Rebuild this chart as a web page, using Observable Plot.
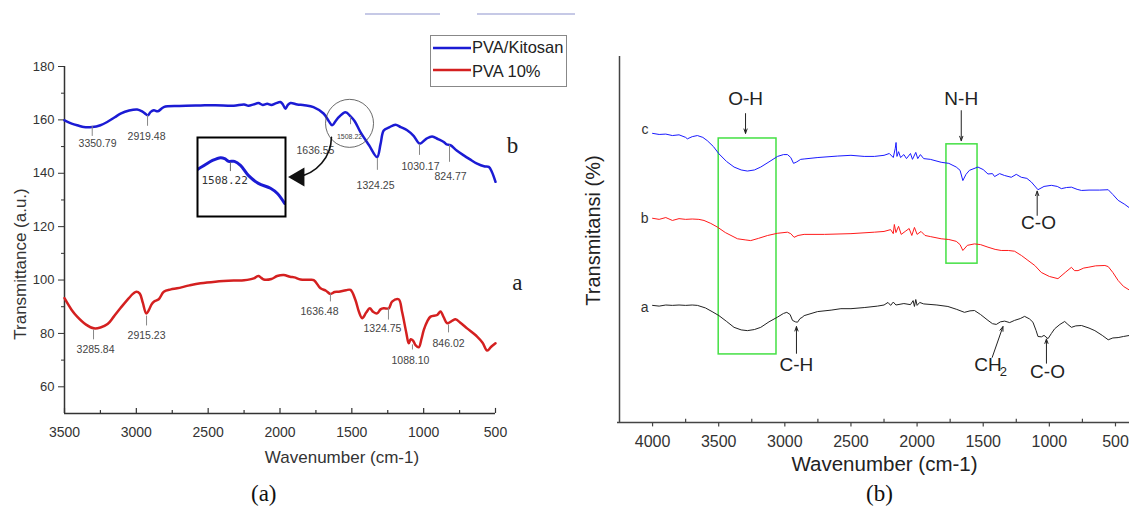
<!DOCTYPE html>
<html><head><meta charset="utf-8">
<script src="https://cdn.jsdelivr.net/npm/d3@7"></script>
<script src="https://cdn.jsdelivr.net/npm/@observablehq/plot@0.6"></script>
<style>
body{margin:0;background:#fff;}
#fig{position:relative;width:1129px;height:511px;overflow:hidden;background:#fff;font-family:"Liberation Sans",Arial,sans-serif;}
.abs{position:absolute;}
</style></head><body><div id="fig"></div>
<script>
// ---------- Panel (a) data ----------
const blueWave = [3500,3450,3400,3366,3307,3250,3203,3150,3110,3050,2994,2960,2935,2920,2900,2878,2850,2809,2700,2553,2450,2322,2250,2220,2183,2150,2120,2089,2060,2030,1997,1980,1962,1945,1927,1880,1830,1767,1697,1660,1637,1600,1544,1509,1480,1440,1380,1324,1300,1278,1240,1196,1160,1115,1070,1027,980,941,900,860,840,814,770,721,680,628,580,547,525,500];
const blueT    = [159.8,158.6,157.8,157.3,157.3,158.0,159.2,161.0,162.3,163.5,163.9,163.2,162.2,161.7,163.0,163.6,163.2,164.8,165.2,165.4,165.5,165.3,165.8,165.3,165.8,166.3,165.6,166.0,165.6,166.2,166.7,165.8,164.2,165.6,166.3,165.8,165.5,164.8,162.4,159.5,158.0,160.5,162.9,161.3,159.5,155.4,150.5,146.1,151.0,156.0,157.2,158.2,157.3,156.1,154.0,151.1,153.0,153.8,152.8,151.7,150.8,150.5,148.5,146.7,145.3,143.6,142.6,142.4,140.5,136.8];
const redWave  = [3500,3450,3412,3350,3296,3250,3200,3157,3110,3064,3020,3000,2976,2955,2931,2913,2895,2878,2844,2809,2760,2716,2630,2553,2450,2322,2250,2183,2160,2148,2130,2113,2060,2020,1974,1930,1900,1857,1800,1765,1718,1680,1649,1620,1591,1540,1509,1475,1450,1428,1400,1375,1350,1324,1300,1278,1243,1220,1174,1150,1120,1104,1090,1074,1055,1034,1015,999,975,952,906,883,860,836,800,779,740,698,628,590,558,530,500];
const redT     = [93.2,88.8,86.3,83.3,81.9,82.2,83.5,86.3,89.5,92.5,95.0,95.6,94.9,91.5,87.5,88.7,90.8,91.9,92.8,95.6,96.5,96.9,98.0,98.8,99.4,99.8,99.9,100.6,101.4,101.5,100.8,100.2,100.4,101.5,101.9,101.2,101.0,100.2,100.1,100.0,96.9,96.0,94.8,95.5,95.6,96.2,96.3,92.5,88.0,85.7,87.8,89.4,88.0,87.5,89.0,89.4,89.4,91.9,92.8,88.0,80.0,76.3,77.8,77.3,75.5,74.8,78.0,81.3,84.5,86.3,86.9,88.2,86.0,83.8,84.8,85.3,83.8,81.9,78.8,76.5,73.6,75.0,76.3];
// inset (zoomed view near 1508 cm-1)
const insetWave = [1625,1597,1573,1545,1531,1517,1497,1476,1448,1414,1372,1348,1323];
const insetT    = [159.2,160.8,162.1,163.0,162.7,161.8,161.8,160.5,157.2,154.7,153.1,151.4,148.2];
// axis ticks (a)
const xMajorA = [3500,3000,2500,2000,1500,1000,500];
const xMinorA = [3250,2750,2250,1750,1250,750];
const yMajorA = [60,80,100,120,140,160,180];
const yMinorA = [70,90,110,130,150,170];
// peak annotations (a): label, tick position, tick ends, label position
const peakLabelsA = ["3350.79","2919.48","1324.25","1030.17","824.77","3285.84","2915.23","1636.48","1324.75","1088.10","846.02"];
const peakTickXA  = [3307,2922,1322,1029,820,3298,2929,1649,1245,1078,827];
const peakTickY1A = [157.6,161.7,145.6,150.8,150.5,81.3,86.5,94.8,89.5,75.7,83.2];
const peakTickY2A = [153.8,157.6,141.1,146.7,144.1,77.6,82.8,91.8,85.0,73.8,80.2];
const peakTextXA  = [3270,2929,1335,1022,813,3284,2929,1725,1287,1092,827];
const peakTextYA  = [151.2,153.8,135.5,142.6,138.9,73.8,79.1,88.0,81.7,69.7,76.1];

// ---------- Panel (b) data ----------
const cWave = [4000,3950,3900,3850,3800,3750,3737,3700,3661,3620,3586,3540,3498,3440,3384,3330,3283,3230,3182,3120,3055,3010,2980,2955,2934,2910,2880,2854,2750,2600,2500,2400,2323,2250,2210,2180,2165,2159,2152,2140,2125,2100,2080,2050,2035,2010,1995,1975,1950,1900,1818,1760,1704,1675,1654,1630,1604,1540,1500,1464,1430,1414,1376,1340,1288,1250,1212,1170,1136,1086,1040,985,940,909,870,833,790,757,700,620,555,520,480,430,400];
const cT    = [79.0,78.7,78.8,78.4,78.6,77.9,77.5,78.1,78.4,77.9,77.0,75.4,73.4,71.3,69.8,69.0,68.7,69.0,69.8,71.2,72.7,73.2,73.2,72.4,70.8,71.2,71.9,72.0,72.4,72.8,73.0,72.7,72.7,73.0,73.5,72.4,74.9,76.5,72.7,74.0,72.4,73.2,72.1,73.5,71.9,73.8,72.1,73.2,72.1,71.9,71.1,70.8,69.8,68.9,66.1,67.8,68.9,69.8,69.1,67.9,68.0,67.2,68.0,67.5,67.0,67.8,67.0,66.7,65.7,63.6,64.5,64.8,64.5,63.9,64.2,64.3,63.7,63.4,63.5,63.5,63.6,62.3,60.7,59.6,58.8];
const bWave = [4000,3950,3900,3850,3800,3750,3700,3650,3611,3560,3510,3450,3358,3300,3258,3200,3130,3055,2980,2955,2930,2900,2854,2700,2500,2323,2250,2200,2180,2172,2160,2140,2120,2090,2060,2040,2020,2000,1970,1940,1900,1818,1760,1704,1675,1654,1620,1566,1520,1464,1410,1364,1310,1263,1210,1162,1110,1061,1000,935,880,833,810,783,740,707,650,580,555,520,480,440,400];
const bT    = [55.8,55.5,56.0,55.2,55.7,55.5,55.6,55.5,55.2,54.4,53.4,51.9,50.2,49.9,49.7,50.3,51.1,51.7,52.0,51.6,50.6,51.1,51.4,51.4,51.6,52.0,52.2,52.7,51.6,54.1,51.9,53.6,51.4,52.2,53.0,51.1,53.3,51.4,52.2,51.1,50.8,50.2,50.0,49.5,48.6,47.0,48.4,48.8,48.6,47.9,47.3,47.0,47.0,46.8,45.6,44.3,42.9,41.0,39.9,39.3,41.0,42.4,41.5,41.5,42.2,42.4,42.8,42.9,42.6,41.0,38.8,37.2,36.3];
const aWave = [4000,3950,3900,3850,3800,3750,3700,3661,3600,3550,3498,3440,3384,3330,3283,3230,3182,3120,3055,3010,2985,2960,2942,2920,2904,2885,2870,2854,2753,2650,2576,2500,2400,2300,2250,2220,2200,2180,2160,2100,2050,2030,2020,2010,2000,1980,1950,1850,1767,1700,1642,1600,1566,1520,1464,1430,1401,1370,1338,1300,1263,1220,1187,1150,1124,1100,1086,1060,1040,1010,985,960,920,884,860,833,800,757,700,656,600,555,520,480,440,392];
const aT    = [32.0,31.8,32.1,32.0,32.1,32.0,32.1,32.0,31.3,30.3,29.2,27.6,26.0,25.3,25.1,25.4,26.0,27.5,28.8,29.8,30.1,29.5,27.9,27.5,27.4,28.4,28.7,29.2,30.3,30.7,31.1,31.1,31.4,31.8,32.1,32.8,32.0,32.9,32.1,32.5,32.2,33.3,31.7,33.6,32.0,32.8,32.4,32.1,31.7,30.9,30.1,30.5,30.6,29.5,27.9,27.0,26.8,27.5,27.7,27.3,27.9,28.4,29.0,28.3,27.4,25.1,23.5,23.4,23.8,22.9,24.3,25.6,26.8,27.6,26.8,26.0,26.4,26.5,25.8,25.1,23.8,22.6,23.1,23.2,23.5,23.8];
const xMajorB = [4000,3500,3000,2500,2000,1500,1000,500];
const xMinorB = [3750,3250,2750,2250,1750,1250,750];
// band annotations (b)
const bandLabels = ["O-H","N-H","C-O","C-H","C-O"];
const bandTextX  = [3297,1666,1082,2912,1014];
const bandTextY  = [88.4,88.5,54.4,15.6,13.7];
const bandArrX1  = [3297,1666,1092,2912,1022];
const bandArrY1  = [84.4,85.2,56.6,18.9,16.2];
const bandArrX2  = [3297,1666,1092,2912,1022];
const bandArrY2  = [79.0,77.0,63.2,26.2,22.8];
const boxX1 = [3500,1778], boxX2 = [3063,1543], boxY1 = [18.6,43.4], boxY2 = [77.6,76.0];
const seriesNamesB = ["c","b","a"];
const seriesLabelY = [80.0,55.7,31.4];

const zip = (ws, ts) => ws.map((w, i) => ({w, t: ts[i]}));
const FONT = "Liberation Sans, Arial, sans-serif";
const SERIF = "Liberation Serif, Times New Roman, serif";
const fig = document.getElementById("fig");
function place(node, left, top, w) {
  const d = document.createElement("div");
  d.className = "abs";
  d.style.left = left + "px"; d.style.top = top + "px";
  if (w) d.style.width = w + "px";
  d.appendChild(node);
  fig.appendChild(d);
  return d;
}

// ---------- Panel (a) ----------
const blue = zip(blueWave, blueT), red = zip(redWave, redT);
const peaks = peakLabelsA.map((label, i) => ({label, x: peakTickXA[i], y1: peakTickY1A[i], y2: peakTickY2A[i], lx: peakTextXA[i], ly: peakTextYA[i]}));
const plotA = Plot.plot({
  width: 570, height: 470,
  marginLeft: 64, marginRight: 75, marginTop: 66, marginBottom: 57,
  x: {domain: [3500, 500]},
  y: {domain: [50, 180]},
  style: {fontFamily: FONT, background: "transparent", overflow: "visible", maxWidth: "none"},
  marks: [
    Plot.ruleX([3500], {y1: 50, y2: 180, stroke: "#333", strokeWidth: 1.5}),
    Plot.ruleY([50], {x1: 3500, x2: 500, stroke: "#333", strokeWidth: 1.5}),
    Plot.ruleX(xMajorA, {x: d => d, y1: 50, y2: 51.9, stroke: "#333", strokeWidth: 1.2}),
    Plot.ruleX(xMinorA, {x: d => d, y1: 50, y2: 51.1, stroke: "#333", strokeWidth: 1.2}),
    Plot.axisX({ticks: xMajorA, tickSize: 0, tickPadding: 14, fontSize: 14, color: "#333", label: null, tickFormat: d => String(d)}),
    Plot.axisY({ticks: yMajorA, tickSize: 6, tickPadding: 4, fontSize: 13, color: "#333", label: null}),
    Plot.axisY({ticks: yMinorA, tickSize: 3, tickFormat: () => "", color: "#333", label: null}),
    Plot.text(["Transmittance (a.u.)"], {frameAnchor: "left", textAnchor: "middle", rotate: -90, dx: -44, dy: 24, fontSize: 17, fill: "#333"}),
    Plot.text(["Wavenumber (cm-1)"], {frameAnchor: "bottom", textAnchor: "middle", lineAnchor: "top", dy: 37, dx: 62, fontSize: 17, fill: "#333"}),
    Plot.line(red, {x: "w", y: "t", stroke: "#d42020", strokeWidth: 2.5, curve: "catmull-rom"}),
    Plot.line(blue, {x: "w", y: "t", stroke: "#1b1bd4", strokeWidth: 2.5, curve: "catmull-rom"}),
    Plot.ruleX(peaks, {x: "x", y1: "y1", y2: "y2", stroke: "#888", strokeWidth: 1}),
    Plot.text(peaks, {x: "lx", y: "ly", text: "label", fontSize: 10.5, fill: "#444"}),
    Plot.ruleX([1509], {y1: 161, y2: 158.2, stroke: "#888"}),
    Plot.text(["1508.22"], {x: 1516, y: 153.8, fontSize: 7, fill: "#444"}),
    Plot.text(["1636.55"], {x: 1753, y: 148.6, fontSize: 10.5, fill: "#444"}),
    Plot.dot([{w: 1516, t: 158.7}], {x: "w", y: "t", r: 24, stroke: "#444", fill: "none", strokeWidth: 0.8}),
    Plot.arrow([{x1: 1642, y1: 153.5, x2: 1880, y2: 138.6}], {x1: "x1", y1: "y1", x2: "x2", y2: "y2", bend: 40, headLength: 0, stroke: "#111", strokeWidth: 1.6}),
    Plot.dot([{w: 1868, t: 138.6}], {x: "w", y: "t", symbol: "triangle", r: 7, fill: "#111", stroke: "none", rotate: -90}),
    Plot.text(["b"], {x: 382, y: 150.5, fontSize: 23, fontFamily: SERIF, fill: "#222"}),
    Plot.text(["a"], {x: 347, y: 98.9, fontSize: 23, fontFamily: SERIF, fill: "#222"})
  ]
});
place(plotA, 0, 0, 570);

// inset
const inset = zip(insetWave, insetT);
const plotInset = Plot.plot({
  width: 88, height: 79, margin: 0,
  x: {domain: [1625, 1320], axis: null},
  y: {domain: [144, 169.5], axis: null},
  style: {fontFamily: FONT, background: "#fff", overflow: "visible", maxWidth: "none"},
  marks: [
    Plot.line(inset, {x: "w", y: "t", stroke: "#1b1bd4", strokeWidth: 3, curve: "catmull-rom", clip: true}),
    Plot.ruleX([1511], {y1: 161.4, y2: 158.5, stroke: "#666"}),
    Plot.text(["1508.22"], {x: 1531, y: 155.6, fontSize: 11, fill: "#333", fontFamily: "DejaVu Sans Mono, monospace"}),
    Plot.frame({stroke: "#000", strokeWidth: 2})
  ]
});
place(plotInset, 197, 137, 88);

// legend (a)
const legend = document.createElement("div");
legend.style.cssText = "width:135px;height:50px;border:1px solid #888;background:#fff;font-size:16.5px;color:#222;position:relative;";
legend.innerHTML =
  '<svg width="40" height="50" style="position:absolute;left:1px;top:0"><line x1="1" x2="39" y1="12" y2="12" stroke="#1b1bd4" stroke-width="2.5"/><line x1="1" x2="39" y1="34" y2="34" stroke="#d42020" stroke-width="2.5"/></svg>' +
  '<div style="position:absolute;left:41px;top:2px;white-space:nowrap">PVA/Kitosan</div>' +
  '<div style="position:absolute;left:41px;top:26px;white-space:nowrap">PVA 10%</div>';
place(legend, 430, 35);

// faint bars at top
[[365, 75], [477, 98]].forEach(([l, w]) => {
  const b = document.createElement("div");
  b.style.cssText = `width:${w}px;height:2px;background:#c6c9e6;`;
  place(b, l, 13);
});

// ---------- Panel (b) ----------
const sc = zip(cWave, cT), sb = zip(bWave, bT), sa = zip(aWave, aT);
const bands = bandLabels.map((label, i) => ({label, tx: bandTextX[i], ty: bandTextY[i], x1: bandArrX1[i], y1: bandArrY1[i], x2: bandArrX2[i], y2: bandArrY2[i]}));
const boxes = boxX1.map((x1, i) => ({x1, x2: boxX2[i], y1: boxY1[i], y2: boxY2[i]}));
const names = seriesNamesB.map((n, i) => ({n, y: seriesLabelY[i]}));
const plotB = Plot.plot({
  width: 569, height: 470,
  marginLeft: 59, marginRight: 0, marginTop: 56, marginBottom: 48,
  x: {domain: [4250, 394]},
  y: {domain: [0, 100]},
  style: {fontFamily: FONT, background: "transparent", overflow: "visible", maxWidth: "none"},
  marks: [
    Plot.ruleX([4250], {y1: 0, y2: 100, stroke: "#444", strokeWidth: 1.5}),
    Plot.ruleY([0], {x1: 4265, x2: 394, stroke: "#444", strokeWidth: 1.5}),
    Plot.ruleX(xMajorB, {x: d => d, y1: 0, y2: -1.2, stroke: "#444", strokeWidth: 1.2}),
    Plot.ruleX(xMinorB, {x: d => d, y1: 0, y2: 0.9, stroke: "#444", strokeWidth: 1.2}),
    Plot.axisX({ticks: xMajorB, tickSize: 0, tickPadding: 13, fontSize: 16, color: "#333", label: null, tickFormat: d => String(d)}),
    Plot.axisY({ticks: [], label: null}),
    Plot.text(["Wavenumber (cm-1)"], {frameAnchor: "bottom", textAnchor: "middle", dy: 48, dx: 10, fontSize: 20.5, fill: "#222"}),
    Plot.text(["Transmitansi (%)"], {frameAnchor: "left", textAnchor: "middle", rotate: -90, dx: -26, dy: -9, fontSize: 20, fill: "#222"}),
    Plot.rect(boxes, {x1: "x1", x2: "x2", y1: "y1", y2: "y2", stroke: "#44e044", fill: "none", strokeWidth: 1.5}),
    Plot.line(sa, {x: "w", y: "t", stroke: "#222", strokeWidth: 1}),
    Plot.line(sb, {x: "w", y: "t", stroke: "#ff1a1a", strokeWidth: 1}),
    Plot.line(sc, {x: "w", y: "t", stroke: "#1a1aff", strokeWidth: 1}),
    Plot.text(names, {x: 4000, y: "y", text: "n", textAnchor: "end", dx: -4, fontSize: 14, fill: "#333"}),
    Plot.arrow(bands, {x1: "x1", y1: "y1", x2: "x2", y2: "y2", stroke: "#222", strokeWidth: 1, headLength: 7, headAngle: 40}),
    Plot.text(bands, {x: "tx", y: "ty", text: "label", fontSize: 19, fill: "#222"}),
    Plot.arrow([{x1: 1432, y1: 17.8, x2: 1351, y2: 26.2}], {x1: "x1", y1: "y1", x2: "x2", y2: "y2", stroke: "#222", strokeWidth: 1, headLength: 7, headAngle: 40}),
    Plot.text(["CH"], {x: 1464, y: 15.6, fontSize: 19, fill: "#222"}),
    Plot.text(["2"], {x: 1347, y: 13.9, fontSize: 13, fill: "#222"})
  ]
});
place(plotB, 560, 0, 569);

// captions
const capA = document.createElement("div");
capA.style.cssText = `font-family:${SERIF};font-size:23px;color:#111;`;
capA.textContent = "(a)";
place(capA, 251, 481);
const capB = document.createElement("div");
capB.style.cssText = `font-family:${SERIF};font-size:23px;color:#111;`;
capB.textContent = "(b)";
place(capB, 866, 481);
</script></body></html>
